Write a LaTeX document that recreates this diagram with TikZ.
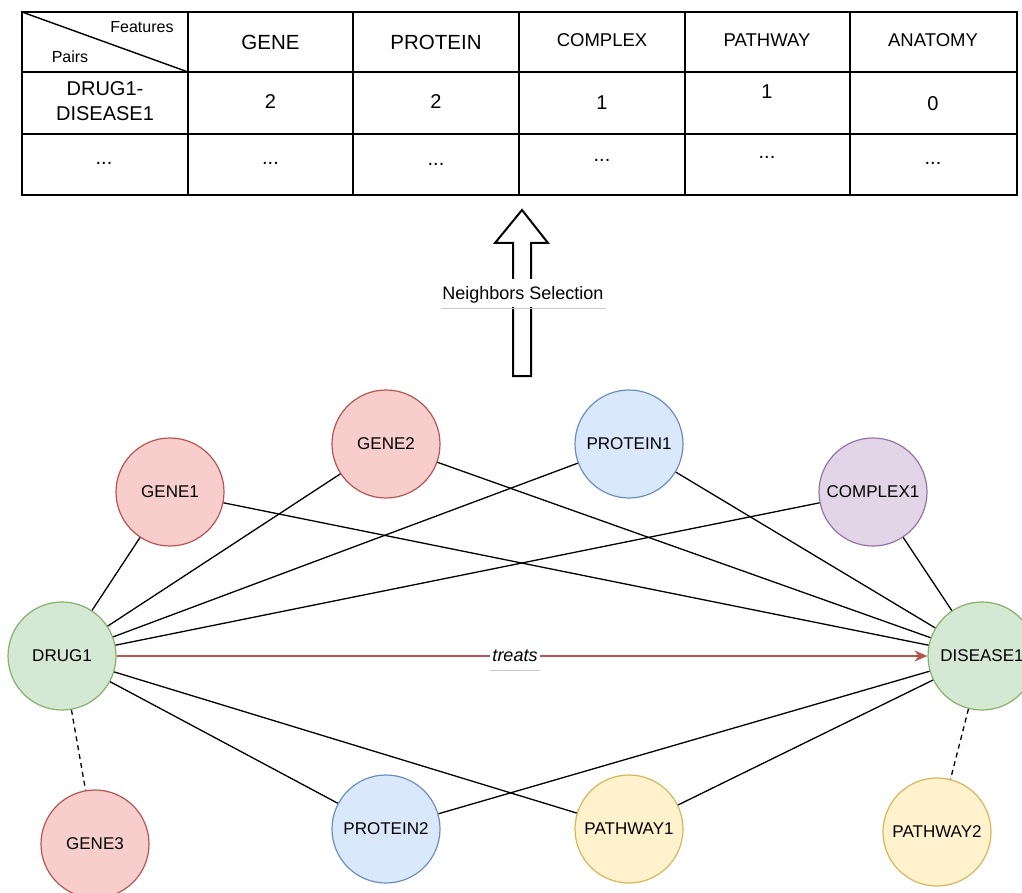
\documentclass[tikz,border=0pt]{standalone}
\usepackage{fontspec}
\setmainfont{Liberation Sans}
\usetikzlibrary{arrows.meta}

\definecolor{grnF}{HTML}{D5E8D4}\definecolor{grnD}{HTML}{82B366}
\definecolor{redF}{HTML}{F8CECC}\definecolor{redD}{HTML}{B85450}
\definecolor{bluF}{HTML}{DAE8FC}\definecolor{bluD}{HTML}{6C8EBF}
\definecolor{purF}{HTML}{E1D5E7}\definecolor{purD}{HTML}{9673A6}
\definecolor{yelF}{HTML}{FFF2CC}\definecolor{yelD}{HTML}{D6B656}
\definecolor{ulineC}{HTML}{C8C8C8}

\begin{document}
\begin{tikzpicture}[x=1pt,y=-1pt,
  ent/.style={circle,minimum size=108pt,inner sep=0pt,line width=1.2pt,
              font=\fontsize{17}{20}\selectfont},
  drugN/.style={ent,fill=grnF,draw=grnD},
  geneN/.style={ent,fill=redF,draw=redD},
  protN/.style={ent,fill=bluF,draw=bluD},
  compN/.style={ent,fill=purF,draw=purD},
  pathN/.style={ent,fill=yelF,draw=yelD},
  link/.style={line width=1.3pt,black},
  weak/.style={link,dash pattern=on 5pt off 4pt},
  treat/.style={line width=1.3pt,redD,-{Stealth[length=13pt,width=11pt]}},
  grid/.style={line width=1.4pt,black},
  cell/.style={inner sep=0pt,text depth=0pt,anchor=center},
  hd/.style={cell,font=\fontsize{20.5}{24}\selectfont},
  hds/.style={cell,font=\fontsize{18.5}{22}\selectfont},
  val/.style={cell,font=\fontsize{20}{25}\selectfont},
  small/.style={cell,font=\fontsize{16}{19}\selectfont},
  uline/.style={line width=1pt,ulineC},
  bigarrow/.style={line width=2pt,black,fill=white,line join=miter}
]
\useasboundingbox (0,0) rectangle (1022,893);
\clip (0,0) rectangle (1022,893);

% ---------- feature table ----------
\draw[grid] (22,12) rectangle (1017,195);
\foreach \yy in {72,134} \draw[grid] (22,\yy) -- (1017,\yy);
\foreach \xx in {188,353,519,685,850} \draw[grid] (\xx,12) -- (\xx,195);
\draw[grid] (22,12) -- (188,72);

\node[small] (feat) at (142,27) {Features};
\node[small] (pairs) at (70,57) {Pairs};
\node[hd]  (hGene) at (270.5,42) {GENE};
\node[hd]  (hProt) at (436,42) {PROTEIN};
\node[hds] (hComp) at (602,40) {COMPLEX};
\node[hds] (hPath) at (767,40) {PATHWAY};
\node[hds] (hAnat) at (933,40) {ANATOMY};

\node[val,align=center] (pair1) at (105,101) {DRUG1-\\DISEASE1};
\node[val] (v1) at (270.5,102) {2};
\node[val] (v2) at (436,102) {2};
\node[val] (v3) at (602,103) {1};
\node[val] (v4) at (767,92) {1};
\node[val] (v5) at (933,104) {0};

\node[val] (d0) at (104,163) {...};
\node[val] (d1) at (270.5,163) {...};
\node[val] (d2) at (436,164) {...};
\node[val] (d3) at (602,160) {...};
\node[val] (d4) at (767,157) {...};
\node[val] (d5) at (933,163) {...};

% ---------- selection arrow ----------
\draw[bigarrow] (513,376) -- (513,243) -- (495,243) -- (522,210) -- (548,243)
  -- (531,243) -- (531,376) -- cycle;
\node[cell,fill=white,minimum width=165pt,minimum height=28pt,
      font=\fontsize{18}{22}\selectfont] (sel) at (523,293) {Neighbors Selection};
\draw[uline] (sel.center) ++(-82,15) -- ++(165,0);

% ---------- knowledge graph ----------
\node[drugN] (drug)    at (62,656)  {DRUG1};
\node[drugN] (disease) at (982,656) {DISEASE1};
\node[geneN] (gene1)   at (170,492) {GENE1};
\node[geneN] (gene2)   at (386,444) {GENE2};
\node[protN] (prot1)   at (629,444) {PROTEIN1};
\node[compN] (comp1)   at (873,492) {COMPLEX1};
\node[geneN] (gene3)   at (95,844)  {GENE3};
\node[protN] (prot2)   at (386,829) {PROTEIN2};
\node[pathN] (path1)   at (629,829) {PATHWAY1};
\node[pathN] (path2)   at (937,832) {PATHWAY2};

\foreach \n in {gene1,gene2,prot1,comp1,prot2,path1}{
  \draw[link] (drug) -- (\n);
  \draw[link] (disease) -- (\n);
}
\draw[weak] (drug) -- (gene3);
\draw[weak] (disease) -- (path2);

\draw[treat] (drug) -- (disease);
\node[cell,fill=white,minimum width=50pt,minimum height=16pt,
      font=\fontsize{18}{22}\selectfont\itshape] (treats) at (515,656) {treats};
\draw[uline] (treats.center) ++(-25,14) -- ++(50,0);
\end{tikzpicture}
\end{document}
